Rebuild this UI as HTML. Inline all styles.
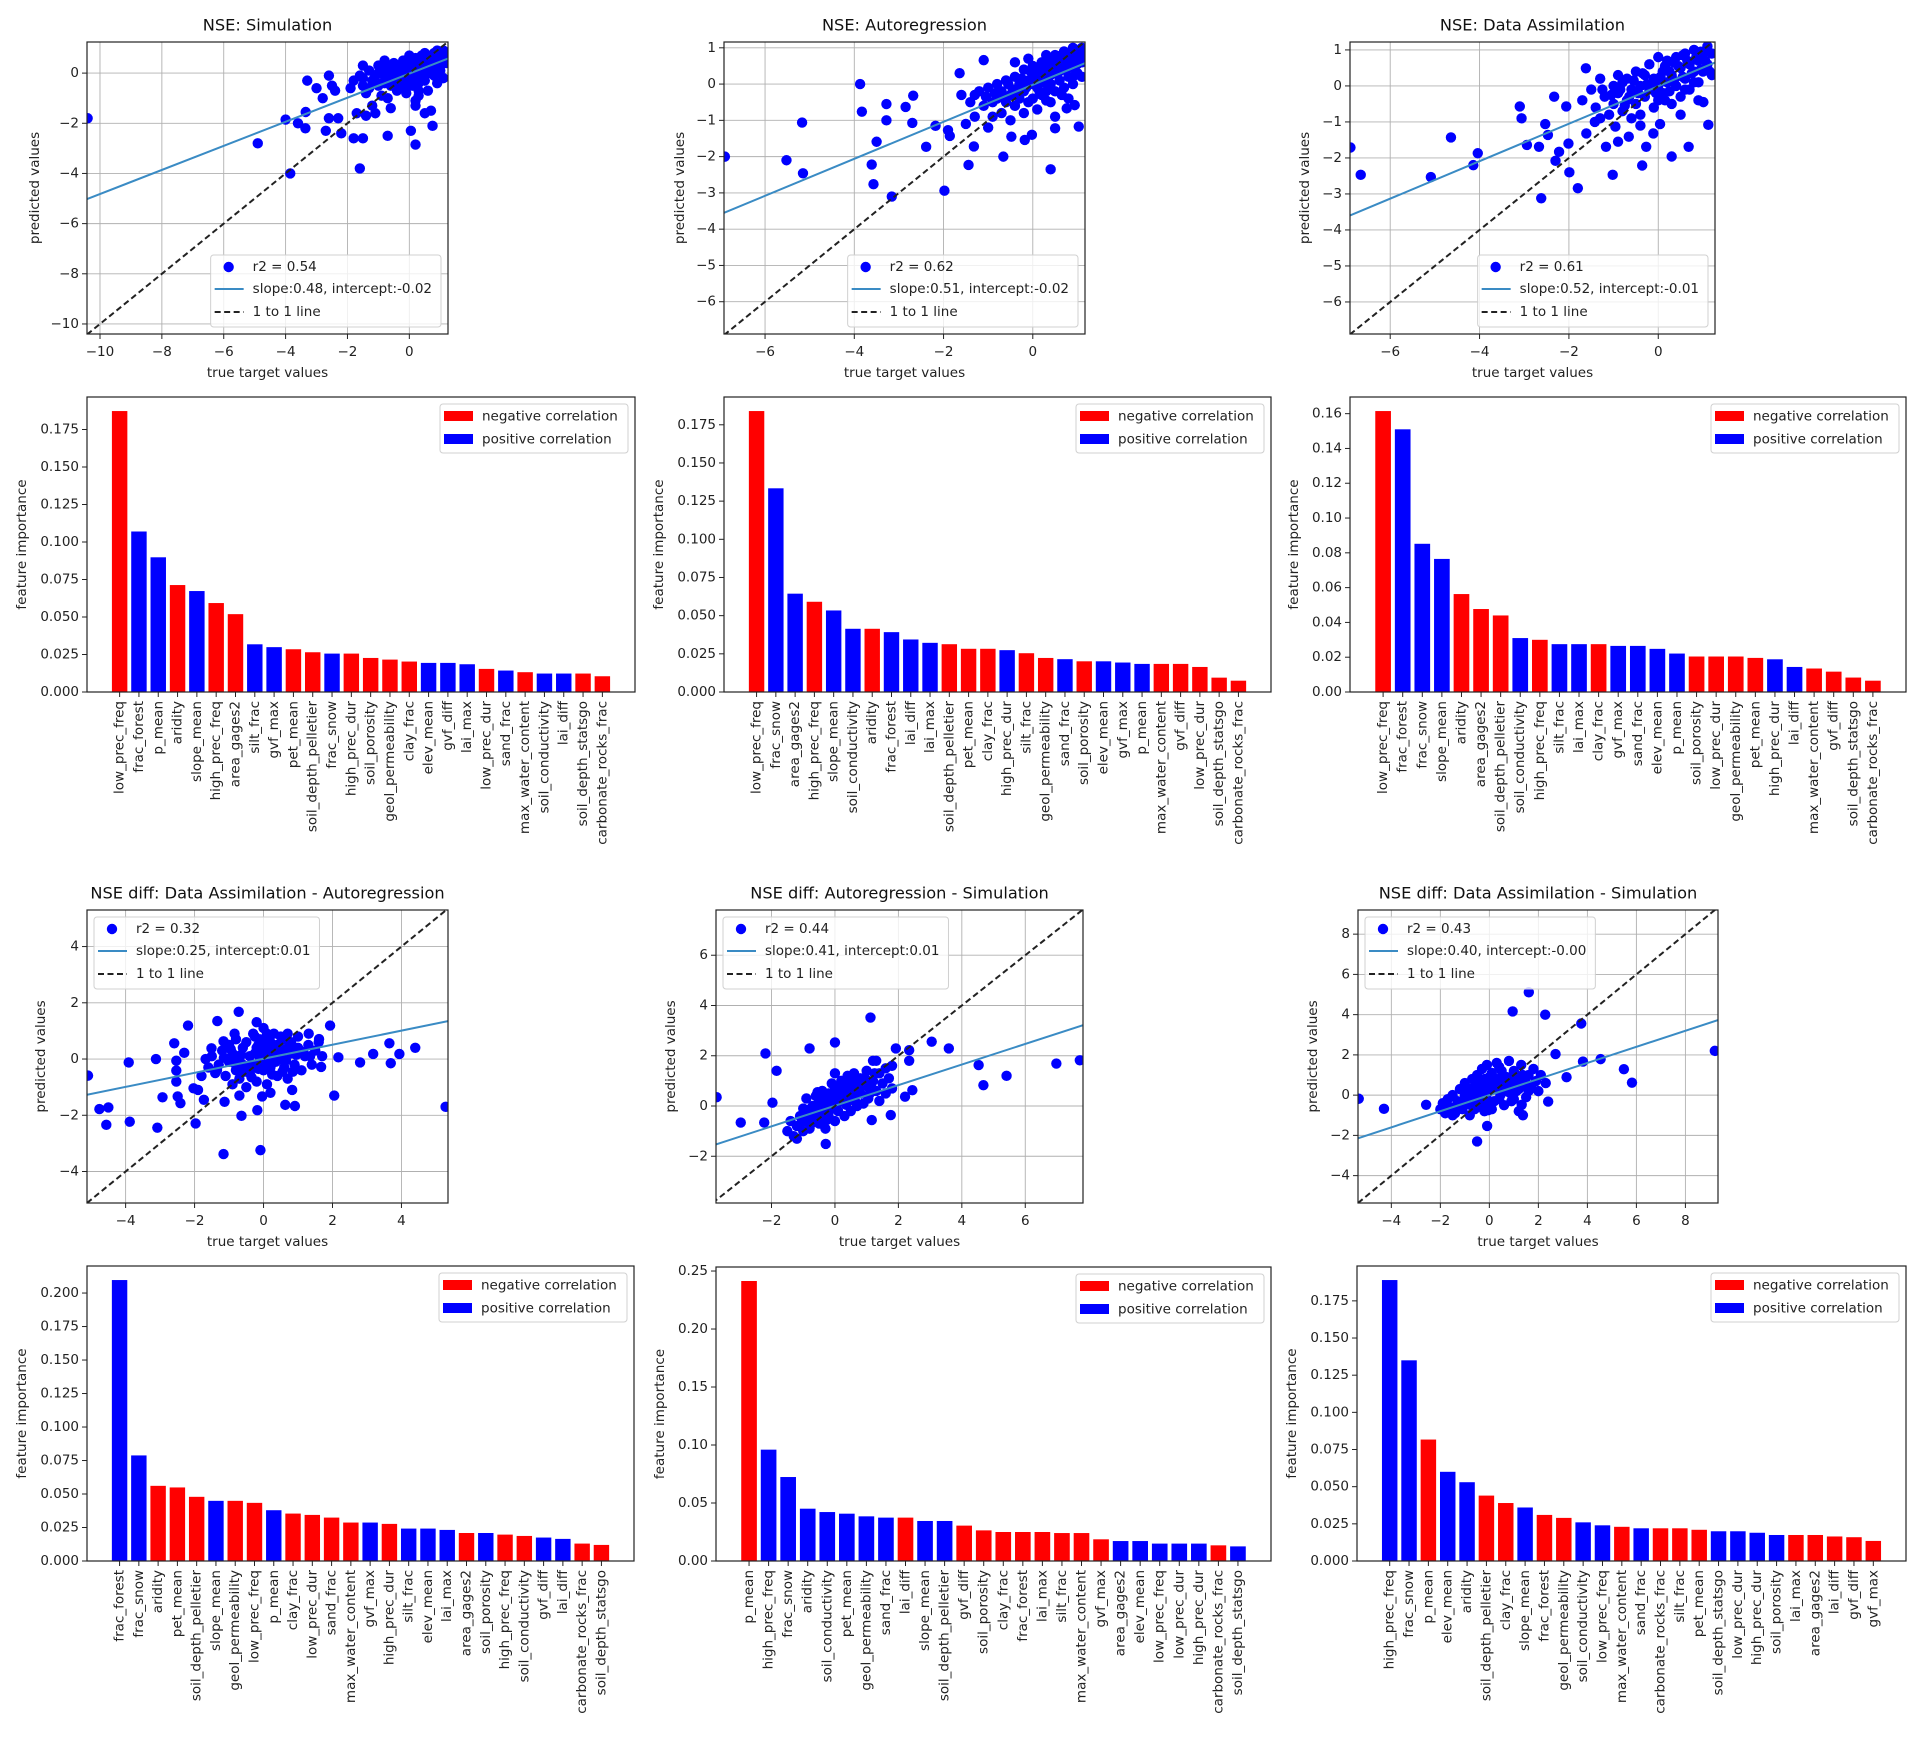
<!DOCTYPE html>
<html><head><meta charset="utf-8">
<style>
html,body{margin:0;padding:0;background:#fff;}
svg{display:block;font-family:"DejaVu Sans","Liberation Sans",sans-serif;}
</style></head>
<body>
<svg id="fig" width="1922" height="1751" viewBox="0 0 1922 1751" xmlns="http://www.w3.org/2000/svg">
<rect width="1922" height="1751" fill="#fff"/>
</svg>
<script>
// ---------- scatter data (true, predicted) ----------
const ptsSim = [[-10.4,-1.8],[-4.9,-2.8],[-3.85,-4.0],[-4.0,-1.85],[-3.36,-2.2],[-3.35,-1.55],[-3.6,-2.0],[-3.3,-0.3],[-3.0,-0.6],[-2.8,-1.0],[-2.6,-0.1],[-2.5,-0.5],[-2.4,-0.7],[-2.6,-1.8],[-2.7,-2.3],[-2.3,-1.8],[-2.2,-2.4],[-1.8,-2.6],[-1.6,-3.8],[-1.5,-2.6],[-1.7,-1.6],[-1.4,-1.7],[-0.7,-2.5],[0.05,-2.3],[0.2,-2.85],[0.7,-1.5],[0.75,-2.1],[-1.5,0.3],[-0.8,0.5],
[-1.9,-0.6],[-1.8,-0.3],[-1.6,-0.1],[-1.5,-0.5],[-1.4,-0.8],[-1.3,0.1],[-1.2,-0.3],[-1.2,-1.3],[-1.1,-0.1],[-1.0,-0.5],[-1.0,0.3],[-0.9,-0.9],[-0.9,0.0],[-0.8,0.3],[-0.8,-0.4],[-0.7,-0.2],[-0.7,-1.0],[-0.6,0.2],[-0.6,-0.5],[-0.5,0.4],[-0.5,-0.2],[-0.4,-0.7],[-0.4,0.0],[-0.3,0.3],[-0.3,-0.4],[-0.2,0.5],[-0.2,-0.1],[-0.1,-0.8],[-0.1,0.2],[0.0,0.7],[0.0,0.0],[0.0,-0.5],[0.1,0.4],[0.1,-0.2],[0.2,0.6],[0.2,-1.1],[0.3,0.2],[0.3,-0.4],[0.4,0.7],[0.4,0.0],[0.5,0.8],[0.5,-0.3],[0.6,0.3],[0.6,-0.7],[0.7,0.6],[0.7,0.0],[0.8,0.8],[0.8,0.2],[0.9,0.9],[0.9,0.4],[1.0,0.7],[1.0,0.1],[1.1,0.9],[1.1,0.5],[1.2,0.8],[1.2,0.4],[-0.6,-1.4],[0.2,-1.3],[0.5,-1.6],[-1.1,-1.6],[0.3,-0.9],[0.9,-0.4],[1.1,-0.2],
[-1.0,0.0],[-0.8,-0.1],[-0.6,-0.1],[-0.4,-0.3],[-0.2,0.2],[0.0,0.3],[0.2,0.3],[0.4,0.4],[0.6,0.5],[0.8,0.5],[1.0,0.4],[-0.5,0.1],[-0.3,-0.6],[0.1,-0.5],[0.3,-0.7],[0.5,0.1],[0.7,0.3],[0.9,0.6],[-0.9,-0.4],[-0.7,0.1],[-0.1,-0.3],[0.2,0.0],[0.6,0.0],[1.0,0.3],[-1.3,-0.6],[-1.5,-0.2],[0.4,-0.2],[0.8,-0.1],[1.2,0.6],[-0.2,-0.4]];
const ptsAR = [[-6.9,-2.0],[-5.52,-2.1],[-5.17,-1.06],[-5.15,-2.46],[-3.87,0.0],[-3.83,-0.76],[-3.61,-2.22],[-3.57,-2.76],[-3.5,-1.59],[-3.28,-0.55],[-3.28,-1.0],[-3.16,-3.1],[-2.85,-0.63],[-2.7,-1.07],[-2.68,-0.32],[-2.39,-1.73],[-2.18,-1.15],[-1.98,-2.94],[-1.9,-1.27],[-1.86,-1.43],[-1.64,0.3],[-1.44,-2.23],[-1.32,-1.72],[-1.1,0.66],[-0.66,-2.0],[-0.48,-1.45],[-0.18,-1.54],[-0.02,-1.4],[0.4,-2.35],[0.5,-1.22],[0.76,-0.67],[0.94,-0.58],[1.03,-1.17],
[-1.6,-0.3],[-1.5,-1.1],[-1.4,-0.5],[-1.3,-0.9],[-1.2,-0.2],[-1.1,-0.6],[-1.0,-1.2],[-1.0,-0.1],[-0.9,-0.5],[-0.9,-0.9],[-0.8,0.0],[-0.8,-0.4],[-0.7,-0.8],[-0.7,-0.2],[-0.6,0.1],[-0.6,-0.5],[-0.5,-1.0],[-0.5,-0.3],[-0.4,0.2],[-0.4,-0.6],[-0.3,0.0],[-0.3,-0.4],[-0.2,0.4],[-0.2,-0.2],[-0.2,-0.8],[-0.1,0.1],[-0.1,-0.5],[0.0,0.5],[0.0,0.0],[0.0,-0.4],[0.1,0.3],[0.1,-0.1],[0.1,-0.7],[0.2,0.6],[0.2,0.1],[0.2,-0.3],[0.3,0.8],[0.3,0.3],[0.3,-0.2],[0.4,0.5],[0.4,0.0],[0.4,-0.5],[0.5,0.8],[0.5,0.3],[0.5,-0.2],[0.6,0.6],[0.6,0.1],[0.7,0.9],[0.7,0.4],[0.7,-0.1],[0.8,0.7],[0.8,0.2],[0.9,1.0],[0.9,0.5],[0.9,0.0],[1.0,0.8],[1.0,0.3],[1.1,1.0],[1.1,0.6],[1.1,0.2],[-0.4,0.6],[0.5,-0.9],[-0.1,0.7],[0.8,-0.4],[-1.3,-0.3],
[-0.15,-0.1],[0.05,0.2],[0.25,0.45],[0.45,0.65],[0.65,0.8],[0.85,0.85],[1.05,0.95],[0.15,0.45],[0.35,0.6],[0.55,0.55],[0.75,0.65],[0.95,0.75],[-0.25,0.15],[-0.45,-0.15],[-0.65,-0.35],[-0.85,-0.25],[0.6,0.35],[0.8,0.45],[1.0,0.55],[0.4,0.25],[-0.05,0.35],[0.25,0.05],[-0.55,0.0],[-1.05,-0.35],[0.65,-0.3],[0.95,0.25],[1.1,0.8],[0.3,-0.45],[-0.35,-0.25],[0.15,-0.2]];
const ptsDA = [[-6.89,-1.71],[-6.66,-2.47],[-4.64,-1.43],[-5.09,-2.53],[-4.14,-2.2],[-4.04,-1.87],[-3.1,-0.57],[-3.06,-0.9],[-2.94,-1.64],[-2.67,-1.69],[-2.62,-3.12],[-2.53,-1.06],[-2.47,-1.36],[-2.33,-0.3],[-2.3,-2.08],[-2.22,-1.83],[-2.06,-0.57],[-2.01,-1.6],[-1.99,-2.4],[-1.8,-2.84],[-1.62,0.49],[-1.61,-1.32],[-1.42,-1.0],[-1.17,-1.69],[-1.02,-2.47],[-0.96,-1.13],[-0.9,-1.55],[-0.66,-1.41],[-0.36,-2.21],[-0.27,-1.69],[-0.11,-1.32],[0.04,-1.06],[0.3,-1.96],[0.68,-1.69],[1.01,-0.45],[1.12,-1.08],
[-1.7,-0.4],[-1.5,-0.1],[-1.4,-0.6],[-1.3,0.2],[-1.2,-0.3],[-1.1,-0.8],[-1.0,0.0],[-1.0,-0.5],[-0.9,0.3],[-0.9,-0.2],[-0.8,-0.7],[-0.8,0.1],[-0.7,-0.4],[-0.7,0.2],[-0.6,-0.9],[-0.6,-0.1],[-0.5,0.4],[-0.5,-0.5],[-0.4,0.0],[-0.4,-0.8],[-0.3,0.3],[-0.3,-0.3],[-0.2,0.6],[-0.2,-0.1],[-0.1,-0.6],[-0.1,0.2],[0.0,0.8],[0.0,0.0],[0.0,-0.4],[0.1,0.4],[0.1,-0.2],[0.2,0.7],[0.2,0.1],[0.3,-0.5],[0.3,0.3],[0.4,0.8],[0.4,0.0],[0.5,0.5],[0.5,-0.3],[0.6,0.2],[0.6,0.9],[0.7,0.6],[0.7,-0.1],[0.8,0.4],[0.8,1.0],[0.9,0.7],[0.9,0.1],[1.0,0.9],[1.0,0.4],[1.1,1.1],[1.1,0.6],[1.2,0.9],[1.2,0.3],[-0.4,-1.1],[0.5,-0.8],[-1.3,-0.9],[0.9,-0.4],
[-0.15,-0.05],[0.05,0.25],[0.25,0.4],[0.45,0.55],[0.65,0.7],[0.85,0.8],[1.05,0.7],[0.15,0.55],[0.35,0.15],[0.55,0.25],[0.75,0.35],[0.95,0.45],[-0.25,0.05],[-0.45,-0.2],[-0.65,-0.3],[-0.85,-0.1],[-1.05,-0.25],[-1.25,-0.1],[0.6,-0.1],[0.8,0.1],[-0.05,-0.2],[0.25,-0.15],[-0.55,0.15],[1.15,0.4],[0.35,0.65],[-0.35,0.35],[0.95,0.95],[-0.75,-0.55],[0.15,-0.4],[0.55,0.85]];
const ptsDiffDAAR = [[-5.09,-0.59],[-4.76,-1.78],[-4.5,-1.72],[-4.56,-2.34],[-3.91,-0.12],[-3.88,-2.23],[-3.12,0.0],[-3.08,-2.44],[-2.93,-1.36],[-2.59,0.56],[-2.53,-0.06],[-2.53,-0.41],[-2.53,-0.8],[-2.49,-1.33],[-2.41,-1.57],[-2.3,0.22],[-2.19,1.19],[-1.97,-2.29],[-2.03,-1.04],[-1.73,-1.45],[-1.68,0.0],[-1.51,0.38],[-1.34,1.35],[-1.16,0.63],[-1.13,-1.52],[-1.16,-3.38],[-0.84,0.9],[-0.72,1.68],[-0.64,-2.02],[-0.18,-1.82],[-0.2,1.31],[-0.09,-3.24],[-0.04,-1.33],[0.63,-1.63],[0.83,-1.1],[0.91,-1.67],[1.31,0.9],[1.61,0.71],[1.67,-0.28],[1.93,1.19],[2.05,-1.3],[2.17,0.06],[2.8,-0.12],[3.18,0.18],[3.65,0.56],[3.69,-0.15],[3.94,0.18],[4.4,0.4],[5.28,-1.7],
[-1.6,-0.3],[-1.5,0.1],[-1.4,-0.5],[-1.3,-0.2],[-1.2,0.3],[-1.1,-0.6],[-1.0,-0.1],[-1.0,0.5],[-0.9,-0.9],[-0.9,0.2],[-0.8,-0.4],[-0.8,0.7],[-0.7,0.0],[-0.7,-0.7],[-0.6,0.4],[-0.6,-0.2],[-0.5,-1.0],[-0.5,0.6],[-0.4,0.1],[-0.4,-0.5],[-0.3,0.9],[-0.3,-0.2],[-0.2,0.4],[-0.2,-0.8],[-0.1,0.0],[-0.1,0.7],[0.0,-0.4],[0.0,0.3],[0.0,1.1],[0.1,-0.9],[0.1,0.1],[0.2,0.6],[0.2,-0.3],[0.3,0.9],[0.3,0.2],[0.4,-0.6],[0.4,0.5],[0.5,0.0],[0.5,0.8],[0.6,-0.3],[0.6,0.3],[0.7,0.9],[0.7,-0.7],[0.8,0.2],[0.8,0.6],[0.9,-0.2],[1.0,0.4],[1.0,0.8],[1.1,-0.4],[1.2,0.1],[1.3,0.5],[1.4,-0.2],[1.5,0.3],[1.6,0.6],[1.7,0.1],[-1.8,-0.6],[-1.9,-1.1],[0.2,-1.2],[-0.7,-1.3],
[-0.25,0.2],[-0.05,-0.15],[0.15,0.35],[0.35,-0.1],[0.55,0.35],[-0.45,-0.25],[-0.65,0.15],[0.25,-0.55],[-0.15,0.5],[0.45,0.15],[0.75,0.45],[-0.85,-0.15],[0.05,0.6],[-0.35,-0.65],[0.65,-0.05],[0.95,0.15],[-1.15,0.05],[-1.35,-0.4],[0.85,-0.45],[1.15,0.25],[-0.55,-0.45],[0.35,0.45],[-0.15,-0.35],[0.15,-0.05],[-0.95,0.35],[0.55,-0.45],[1.35,0.1],[-0.25,0.8],[0.1,0.9],[0.6,0.7]];
const ptsDiffARSim = [[-3.73,0.35],[-2.97,-0.66],[-2.23,-0.66],[-2.19,2.09],[-1.84,1.4],[-1.97,0.13],[-0.8,2.29],[0.0,2.53],[-0.29,-1.51],[1.12,3.52],[1.16,-0.56],[1.76,-0.36],[1.92,2.29],[2.34,2.22],[2.34,1.8],[2.21,0.37],[2.44,0.63],[3.05,2.56],[3.59,2.29],[4.53,1.63],[4.68,0.83],[5.41,1.2],[6.98,1.69],[7.72,1.82],
[-1.5,-1.0],[-1.4,-0.6],[-1.3,-1.2],[-1.2,-0.8],[-1.1,-0.4],[-1.0,-1.0],[-1.0,-0.1],[-0.9,-0.6],[-0.9,0.3],[-0.8,-0.3],[-0.8,-0.9],[-0.7,0.0],[-0.7,-0.5],[-0.6,0.4],[-0.6,-0.2],[-0.5,-0.7],[-0.5,0.2],[-0.4,0.6],[-0.4,-0.3],[-0.3,0.1],[-0.3,-0.9],[-0.2,0.5],[-0.2,-0.4],[-0.1,0.9],[-0.1,0.0],[0.0,0.3],[0.0,-0.6],[0.0,1.3],[0.1,0.6],[0.1,-0.2],[0.2,1.0],[0.2,0.2],[0.3,-0.4],[0.3,0.6],[0.4,1.2],[0.4,0.2],[0.5,0.7],[0.5,-0.2],[0.6,1.3],[0.6,0.4],[0.7,0.9],[0.7,0.0],[0.8,1.1],[0.8,0.5],[0.9,0.1],[1.0,0.8],[1.0,1.4],[1.1,0.5],[1.2,1.0],[1.2,1.8],[1.3,0.6],[1.4,1.3],[1.4,0.2],[1.5,0.9],[1.6,1.5],[1.6,0.5],[1.7,1.1],[1.8,1.6],[1.8,0.7],[1.3,1.8],[-1.2,-1.3],
[-0.85,-0.15],[-0.65,-0.25],[-0.45,0.0],[-0.25,0.15],[-0.05,0.45],[0.15,0.35],[0.35,0.85],[0.55,0.45],[0.75,0.65],[0.95,1.1],[-0.55,-0.45],[-0.35,0.35],[-0.15,-0.15],[0.05,0.05],[0.25,0.5],[0.45,0.5],[0.65,0.15],[0.85,0.8],[1.05,0.3],[1.25,1.3],[-1.05,-0.65],[-0.75,-0.7],[0.15,0.8],[0.35,0.05],[-0.25,-0.55],[0.55,1.0],[1.15,0.9],[-0.95,-0.3],[0.0,0.75],[-0.55,0.55]];
const ptsDiffDASim = [[-5.33,-0.18],[-4.3,-0.68],[-2.58,-0.48],[-0.5,-2.3],[-0.09,-1.53],[0.95,4.16],[1.61,5.11],[2.28,4.0],[1.32,-0.48],[1.37,-1.0],[2.4,-0.32],[2.7,2.04],[3.15,0.89],[3.75,3.56],[3.82,1.67],[4.54,1.79],[5.49,1.29],[5.82,0.62],[9.2,2.2],
[-2.0,-0.7],[-1.9,-0.4],[-1.8,-0.9],[-1.7,-0.2],[-1.6,-0.6],[-1.5,0.0],[-1.4,-0.9],[-1.3,-0.3],[-1.2,0.3],[-1.1,-0.7],[-1.0,0.0],[-1.0,0.6],[-0.9,-0.4],[-0.8,0.3],[-0.8,-1.0],[-0.7,0.8],[-0.7,-0.2],[-0.6,0.4],[-0.6,-0.7],[-0.5,1.0],[-0.5,0.0],[-0.4,-0.4],[-0.4,0.6],[-0.3,1.3],[-0.3,0.2],[-0.2,-0.8],[-0.2,0.8],[-0.1,0.1],[-0.1,1.5],[0.0,-0.3],[0.0,0.5],[0.1,1.1],[0.1,-0.7],[0.2,0.3],[0.3,1.6],[0.3,0.8],[0.4,-0.2],[0.5,0.6],[0.5,1.2],[0.6,-0.5],[0.7,0.2],[0.7,0.9],[0.8,1.7],[0.9,0.5],[0.9,-0.3],[1.0,1.2],[1.1,0.2],[1.2,0.8],[1.3,1.5],[1.4,0.5],[1.5,-0.1],[1.6,1.0],[1.7,0.4],[1.8,1.3],[1.9,0.7],[2.0,0.2],[2.1,1.0],[2.3,0.6],[1.2,-0.8],[-1.5,-1.0],
[-1.2,-0.5],[-0.9,0.15],[-0.6,0.0],[-0.3,-0.2],[0.0,0.2],[0.3,0.4],[0.6,0.3],[0.9,0.9],[1.2,0.3],[1.5,0.6],[-0.75,-0.5],[-0.45,0.3],[-0.15,0.5],[0.15,0.7],[0.45,0.0],[0.75,0.5],[1.05,0.6],[1.35,1.0],[-1.05,-0.25],[-0.2,-0.5],[0.2,-0.3],[0.6,0.9],[1.0,-0.2],[0.0,0.9],[-0.5,-0.6],[0.4,1.4],[1.6,0.2],[-1.35,-0.65],[0.85,0.1],[-0.05,-0.75]];

// ---------- bar data ----------
const featSim = ["low_prec_freq","frac_forest","p_mean","aridity","slope_mean","high_prec_freq","area_gages2","silt_frac","gvf_max","pet_mean","soil_depth_pelletier","frac_snow","high_prec_dur","soil_porosity","geol_permeability","clay_frac","elev_mean","gvf_diff","lai_max","low_prec_dur","sand_frac","max_water_content","soil_conductivity","lai_diff","soil_depth_statsgo","carbonate_rocks_frac"];
const impSim = [0.1873,0.107,0.0898,0.0713,0.0673,0.0593,0.0519,0.0318,0.0299,0.0285,0.0265,0.0256,0.0256,0.0227,0.0216,0.0203,0.0194,0.0194,0.0185,0.0154,0.0143,0.0132,0.0123,0.0123,0.0123,0.0105];
const signSim = "RBBRBRRBBRRBRRRRBBBRBRBBRR";

const featAR = ["low_prec_freq","frac_snow","area_gages2","high_prec_freq","slope_mean","soil_conductivity","aridity","frac_forest","lai_diff","lai_max","soil_depth_pelletier","pet_mean","clay_frac","high_prec_dur","silt_frac","geol_permeability","sand_frac","soil_porosity","elev_mean","gvf_max","p_mean","max_water_content","gvf_diff","low_prec_dur","soil_depth_statsgo","carbonate_rocks_frac"];
const impAR = [0.184,0.1334,0.0644,0.0591,0.0534,0.0414,0.0414,0.0392,0.0344,0.0322,0.0313,0.0283,0.0283,0.0274,0.0254,0.0223,0.0215,0.0201,0.0201,0.0193,0.0184,0.0184,0.0184,0.0164,0.0094,0.0074];
const signAR = "RBBRBBRBBBRRRBRRBRBBBRRRRR";

const featDA = ["low_prec_freq","frac_forest","frac_snow","slope_mean","aridity","area_gages2","soil_depth_pelletier","soil_conductivity","high_prec_freq","silt_frac","lai_max","clay_frac","gvf_max","sand_frac","elev_mean","p_mean","soil_porosity","low_prec_dur","geol_permeability","pet_mean","high_prec_dur","lai_diff","max_water_content","gvf_diff","soil_depth_statsgo","carbonate_rocks_frac"];
const impDA = [0.1615,0.151,0.0852,0.0765,0.0563,0.0477,0.044,0.031,0.030,0.0275,0.0275,0.0275,0.0265,0.0265,0.0248,0.0221,0.0204,0.0204,0.0204,0.0196,0.0188,0.0144,0.0135,0.0117,0.0083,0.0065];
const signDA = "RBBBRRRBRBBRBBBBRRRRBBRRRR";

const featDiffDAAR = ["frac_forest","frac_snow","aridity","pet_mean","soil_depth_pelletier","slope_mean","geol_permeability","low_prec_freq","p_mean","clay_frac","low_prec_dur","sand_frac","max_water_content","gvf_max","high_prec_dur","silt_frac","elev_mean","lai_max","area_gages2","soil_porosity","high_prec_freq","soil_conductivity","gvf_diff","lai_diff","carbonate_rocks_frac","soil_depth_statsgo"];
const impDiffDAAR = [0.2097,0.0788,0.0561,0.0549,0.0479,0.0449,0.0449,0.0434,0.0379,0.0354,0.0344,0.0324,0.0287,0.0287,0.0277,0.0242,0.0242,0.0232,0.0209,0.0209,0.0197,0.0187,0.0175,0.0165,0.013,0.012];
const signDiffDAAR = "BBRRRBRRBRRRRBRBBBRBRRBBRR";

const featDiffARSim = ["p_mean","high_prec_freq","frac_snow","aridity","soil_conductivity","pet_mean","geol_permeability","sand_frac","lai_diff","slope_mean","soil_depth_pelletier","gvf_diff","soil_porosity","clay_frac","frac_forest","lai_max","silt_frac","max_water_content","gvf_max","area_gages2","elev_mean","low_prec_freq","low_prec_dur","high_prec_dur","carbonate_rocks_frac","soil_depth_statsgo"];
const impDiffARSim = [0.2414,0.096,0.0724,0.0451,0.0422,0.0408,0.0385,0.0374,0.0374,0.0345,0.0345,0.0305,0.0264,0.025,0.025,0.025,0.0241,0.0241,0.0187,0.0172,0.0172,0.015,0.015,0.015,0.0135,0.0126];
const signDiffARSim = "RBBBBBBBRBBRRRRRRRRBBBBBRB";

const featDiffDASim = ["high_prec_freq","frac_snow","p_mean","elev_mean","aridity","soil_depth_pelletier","clay_frac","slope_mean","frac_forest","geol_permeability","soil_conductivity","low_prec_freq","max_water_content","sand_frac","carbonate_rocks_frac","silt_frac","pet_mean","soil_depth_statsgo","low_prec_dur","high_prec_dur","soil_porosity","lai_max","area_gages2","lai_diff","gvf_diff","gvf_max"];
const impDiffDASim = [0.189,0.135,0.0817,0.060,0.053,0.044,0.039,0.036,0.031,0.029,0.026,0.024,0.023,0.022,0.022,0.022,0.021,0.020,0.020,0.019,0.0175,0.0175,0.0175,0.0165,0.016,0.0135];
const signDiffDASim = "BBRBBRRBRRBBRBRRRBBBBRRRRR";

// ---------- tick labels ----------
const ticksSimX = [-10,-8,-6,-4,-2,0];
const ticksSimY = [-10,-8,-6,-4,-2,0];
const ticksARX = [-6,-4,-2,0];
const ticksARY = [-6,-5,-4,-3,-2,-1,0,1];
const ticksDAX = [-6,-4,-2,0];
const ticksDAY = [-6,-5,-4,-3,-2,-1,0,1];
const ticksD1X = [-4,-2,0,2,4];
const ticksD1Y = [-4,-2,0,2,4];
const ticksD2X = [-2,0,2,4,6];
const ticksD2Y = [-2,0,2,4,6];
const ticksD3X = [-4,-2,0,2,4,6,8];
const ticksD3Y = [-4,-2,0,2,4,6,8];
const barTicks175 = [0,0.025,0.05,0.075,0.1,0.125,0.15,0.175];
const barTicks16 = [0,0.02,0.04,0.06,0.08,0.1,0.12,0.14,0.16];
const barTicks200 = [0,0.025,0.05,0.075,0.1,0.125,0.15,0.175,0.2];
const barTicks25 = [0,0.05,0.1,0.15,0.2,0.25];

const NS = "http://www.w3.org/2000/svg";
const svg = document.getElementById("fig");
const FS = 13.5;
const DOT_R = 5.2;
function mk(tag, attrs, parent, text) {
  const e = document.createElementNS(NS, tag);
  for (const k in attrs) e.setAttribute(k, attrs[k]);
  if (text !== undefined) e.textContent = text;
  (parent || svg).appendChild(e);
  return e;
}
function fmt(v, d) {
  const s = Math.abs(v).toFixed(d);
  return (v < 0 ? "\u2212" : "") + s;
}

function scatter(c) {
  const g = mk("g", {});
  
  
  const [L, T, R, B] = c.ax;
  const sx = v => L + (v - c.xlim[0]) / (c.xlim[1] - c.xlim[0]) * (R - L);
  const sy = v => B - (v - c.ylim[0]) / (c.ylim[1] - c.ylim[0]) * (B - T);
  const clipId = c.name + "-clip";
  const cp = mk("clipPath", {id: clipId}, g);
  mk("rect", {x: L, y: T, width: R - L, height: B - T}, cp);
  c.xt.forEach(v => {
    const l = mk("line", {x1: sx(v), x2: sx(v), y1: T, y2: B, stroke: "#b0b0b0", "stroke-width": 0.9}, g);
    
    
  });
  c.yt.forEach(v => {
    const l = mk("line", {x1: L, x2: R, y1: sy(v), y2: sy(v), stroke: "#b0b0b0", "stroke-width": 0.9}, g);
    
    
  });
  const plot = mk("g", {"clip-path": "url(#" + clipId + ")"}, g);
  c.pts.forEach(p => {
    const d = mk("circle", {cx: sx(p[0]), cy: sy(p[1]), r: DOT_R, fill: "#0000ff"}, plot);
    
    
  });
  const fit = mk("line", {x1: sx(c.xlim[0]), y1: sy(c.slope * c.xlim[0] + c.icpt), x2: sx(c.xlim[1]), y2: sy(c.slope * c.xlim[1] + c.icpt), stroke: "#3a8bc4", "stroke-width": 2}, plot);
  
  
  const lo = Math.min(c.xlim[0], c.ylim[0]), hi = Math.max(c.xlim[1], c.ylim[1]);
  const one = mk("line", {x1: sx(lo), y1: sy(lo), x2: sx(hi), y2: sy(hi), stroke: "#222", "stroke-width": 2, "stroke-dasharray": "6,3.5"}, plot);
  
  
  const sp = mk("rect", {x: L, y: T, width: R - L, height: B - T, fill: "none", stroke: "#222", "stroke-width": 1.2}, g);
  
  
  c.xt.forEach(v => {
    mk("line", {x1: sx(v), x2: sx(v), y1: B, y2: B + 5, stroke: "#222", "stroke-width": 1}, g);
    const t = mk("text", {x: sx(v), y: B + 18, "font-size": FS, "text-anchor": "middle", "dominant-baseline": "central", fill: "#222"}, g, fmt(v, 0));
    
    
  });
  c.yt.forEach(v => {
    mk("line", {x1: L - 5, x2: L, y1: sy(v), y2: sy(v), stroke: "#222", "stroke-width": 1}, g);
    const t = mk("text", {x: L - 8, y: sy(v), "font-size": FS, "text-anchor": "end", "dominant-baseline": "central", fill: "#222"}, g, fmt(v, 0));
    
    
  });
  const ti = mk("text", {x: (L + R) / 2, y: T - 17, "font-size": 16.2, "text-anchor": "middle", "dominant-baseline": "central", fill: "#111"}, g, c.title);
  
  
  const xl = mk("text", {x: (L + R) / 2, y: B + 39, "font-size": FS, "text-anchor": "middle", "dominant-baseline": "central", fill: "#222"}, g, "true target values");
  
  
  const yl = mk("text", {x: 0, y: 0, "font-size": FS, "text-anchor": "middle", "dominant-baseline": "central", fill: "#222", transform: "translate(" + (L - c.ylOff) + "," + ((T + B) / 2) + ") rotate(-90)"}, g, "predicted values");
  
  
  const lg = mk("g", {}, g);
  
  
  const box = mk("rect", {x: 0, y: 0, width: 10, height: 72, rx: 3, fill: "#fff", "fill-opacity": 0.8, stroke: "#d0d0d0", "stroke-width": 1}, lg);
  const labels = [c.r2, c.fitLabel, "1 to 1 line"];
  let maxW = 0;
  const rows = [12, 34, 57];
  labels.forEach((s, i) => {
    const t = mk("text", {x: 42, y: rows[i], "font-size": FS, "dominant-baseline": "central", fill: "#222"}, lg, s);
    
    
    maxW = Math.max(maxW, t.getComputedTextLength());
  });
  mk("circle", {cx: 18, cy: rows[0], r: DOT_R, fill: "#0000ff"}, lg);
  mk("line", {x1: 4, x2: 33, y1: rows[1], y2: rows[1], stroke: "#3a8bc4", "stroke-width": 2}, lg);
  mk("line", {x1: 4, x2: 33, y1: rows[2], y2: rows[2], stroke: "#222", "stroke-width": 2, "stroke-dasharray": "6,3.5"}, lg);
  const w = 42 + maxW + 9;
  box.setAttribute("width", w);
  let lx, ly;
  if (c.loc === "lr") { lx = R - 7 - w; ly = B - 7 - 72; } else { lx = L + 7; ly = T + 7; }
  lg.setAttribute("transform", "translate(" + lx + "," + ly + ")");
}

function bars(c) {
  const g = mk("g", {});
  
  
  const [L, T, R, B] = c.ax;
  const n = c.vals.length;
  const pad = 0.05 * (n - 1 + 0.8);
  const x0 = -0.4 - pad, x1 = n - 1 + 0.4 + pad;
  const ymax = 1.05 * Math.max(...c.vals);
  const sx = v => L + (v - x0) / (x1 - x0) * (R - L);
  const sy = v => B - v / ymax * (B - T);
  c.vals.forEach((v, i) => {
    const r = mk("rect", {x: sx(i - 0.4), y: sy(v), width: sx(0.8) - sx(0), height: B - sy(v), fill: c.sign[i] === "R" ? "#ff0000" : "#0000ff"}, g);
    
    
    mk("line", {x1: sx(i), x2: sx(i), y1: B, y2: B + 5, stroke: "#222", "stroke-width": 1}, g);
    const t = mk("text", {x: 0, y: 0, "font-size": FS, "text-anchor": "end", "dominant-baseline": "central", fill: "#222", transform: "translate(" + sx(i) + "," + (B + 9) + ") rotate(-90)"}, g, c.feats[i]);
    
    
  });
  c.ticks.forEach(v => {
    mk("line", {x1: L - 5, x2: L, y1: sy(v), y2: sy(v), stroke: "#222", "stroke-width": 1}, g);
    const t = mk("text", {x: L - 8, y: sy(v), "font-size": FS, "text-anchor": "end", "dominant-baseline": "central", fill: "#222"}, g, v.toFixed(c.dec));
    
    
  });
  const sp = mk("rect", {x: L, y: T, width: R - L, height: B - T, fill: "none", stroke: "#222", "stroke-width": 1.2}, g);
  
  
  const yl = mk("text", {x: 0, y: 0, "font-size": FS, "text-anchor": "middle", "dominant-baseline": "central", fill: "#222", transform: "translate(" + (L - c.ylOff) + "," + ((T + B) / 2) + ") rotate(-90)"}, g, "feature importance");
  
  
  const lg = mk("g", {}, g);
  
  
  const w = 188, lx = R - 7 - w, ly = T + 7;
  mk("rect", {x: lx, y: ly, width: w, height: 49, rx: 3, fill: "#fff", stroke: "#d0d0d0", "stroke-width": 1}, lg);
  mk("rect", {x: lx + 4, y: ly + 7, width: 29, height: 10, fill: "#ff0000"}, lg);
  mk("rect", {x: lx + 4, y: ly + 30, width: 29, height: 10, fill: "#0000ff"}, lg);
  const t1 = mk("text", {x: lx + 42, y: ly + 12.5, "font-size": FS, "dominant-baseline": "central", fill: "#222"}, lg, "negative correlation");
  
  
  const t2 = mk("text", {x: lx + 42, y: ly + 35.5, "font-size": FS, "dominant-baseline": "central", fill: "#222"}, lg, "positive correlation");
  
  
}

scatter({name: "scatter-simulation", title: "NSE: Simulation", ax: [87, 42, 448, 334], xlim: [-10.42, 1.25], ylim: [-10.4, 1.24], xt: ticksSimX, yt: ticksSimY, pts: ptsSim, slope: 0.48, icpt: -0.02, r2: "r2 = 0.54", fitLabel: "slope:0.48, intercept:-0.02", loc: "lr", ylOff: 52});
scatter({name: "scatter-autoregression", title: "NSE: Autoregression", ax: [724, 42, 1085, 334], xlim: [-6.92, 1.17], ylim: [-6.89, 1.16], xt: ticksARX, yt: ticksARY, pts: ptsAR, slope: 0.51, icpt: -0.02, r2: "r2 = 0.62", fitLabel: "slope:0.51, intercept:-0.02", loc: "lr", ylOff: 44});
scatter({name: "scatter-data-assimilation", title: "NSE: Data Assimilation", ax: [1350, 42, 1715, 334], xlim: [-6.9, 1.27], ylim: [-6.89, 1.22], xt: ticksDAX, yt: ticksDAY, pts: ptsDA, slope: 0.52, icpt: -0.01, r2: "r2 = 0.61", fitLabel: "slope:0.52, intercept:-0.01", loc: "lr", ylOff: 45});
scatter({name: "scatter-diff-da-ar", title: "NSE diff: Data Assimilation - Autoregression", ax: [87, 910, 448, 1203], xlim: [-5.12, 5.35], ylim: [-5.12, 5.3], xt: ticksD1X, yt: ticksD1Y, pts: ptsDiffDAAR, slope: 0.25, icpt: 0.01, r2: "r2 = 0.32", fitLabel: "slope:0.25, intercept:0.01", loc: "ul", ylOff: 46});
scatter({name: "scatter-diff-ar-sim", title: "NSE diff: Autoregression - Simulation", ax: [716, 910, 1083, 1203], xlim: [-3.75, 7.82], ylim: [-3.86, 7.8], xt: ticksD2X, yt: ticksD2Y, pts: ptsDiffARSim, slope: 0.41, icpt: 0.01, r2: "r2 = 0.44", fitLabel: "slope:0.41, intercept:0.01", loc: "ul", ylOff: 45});
scatter({name: "scatter-diff-da-sim", title: "NSE diff: Data Assimilation - Simulation", ax: [1358, 910, 1718, 1203], xlim: [-5.36, 9.33], ylim: [-5.36, 9.2], xt: ticksD3X, yt: ticksD3Y, pts: ptsDiffDASim, slope: 0.40, icpt: -0.0, r2: "r2 = 0.43", fitLabel: "slope:0.40, intercept:-0.00", loc: "ul", ylOff: 45});

bars({name: "bars-simulation", ax: [87, 397, 635, 692], feats: featSim, vals: impSim, sign: signSim, ticks: barTicks175, dec: 3, ylOff: 65});
bars({name: "bars-autoregression", ax: [724, 397, 1271, 692], feats: featAR, vals: impAR, sign: signAR, ticks: barTicks175, dec: 3, ylOff: 65});
bars({name: "bars-data-assimilation", ax: [1350, 397, 1906, 692], feats: featDA, vals: impDA, sign: signDA, ticks: barTicks16, dec: 2, ylOff: 56});
bars({name: "bars-diff-da-ar", ax: [87, 1266, 634, 1561], feats: featDiffDAAR, vals: impDiffDAAR, sign: signDiffDAAR, ticks: barTicks200, dec: 3, ylOff: 65});
bars({name: "bars-diff-ar-sim", ax: [716, 1267, 1271, 1561], feats: featDiffARSim, vals: impDiffARSim, sign: signDiffARSim, ticks: barTicks25, dec: 2, ylOff: 56});
bars({name: "bars-diff-da-sim", ax: [1357, 1266, 1906, 1561], feats: featDiffDASim, vals: impDiffDASim, sign: signDiffDASim, ticks: barTicks175, dec: 3, ylOff: 65});
</script>
</body></html>
